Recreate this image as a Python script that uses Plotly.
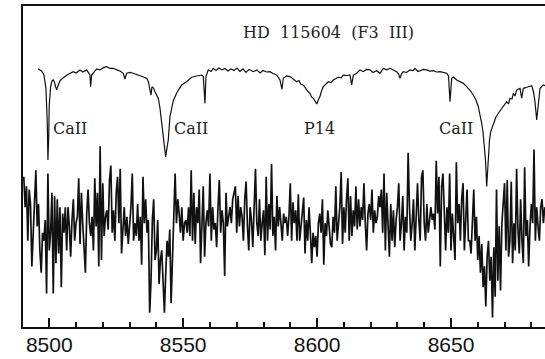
import numpy as np
import plotly.graph_objects as go

# upper spectrum: HD 115604 (F3 III), normalised flux
wave_star = [
    8495.89, 8497.16, 8498.02, 8498.77, 8499.25, 8499.51, 8499.78, 8500.00, 8500.52, 8501.01,
    8501.49, 8501.87, 8502.39, 8502.76, 8503.36, 8504.00, 8505.00, 8505.86, 8507.09, 8508.96,
    8509.97, 8511.46, 8512.58, 8513.97, 8515.20, 8515.46, 8515.83, 8517.70, 8518.93, 8520.16,
    8521.43, 8522.67, 8523.90, 8525.28, 8526.40, 8527.63, 8528.27, 8528.90, 8530.13, 8531.37,
    8532.64, 8533.87, 8535.10, 8536.37, 8537.04, 8537.60, 8537.98, 8538.35, 8538.91, 8539.47,
    8540.70, 8541.34, 8541.97, 8542.46, 8542.83, 8543.47, 8543.84, 8544.44, 8545.07, 8546.30,
    8547.57, 8549.44, 8551.31, 8553.17, 8555.04, 8556.91, 8557.51, 8558.14, 8558.51, 8559.37,
    8560.38, 8561.24, 8562.25, 8563.37, 8564.49, 8565.61, 8566.73, 8567.85, 8568.97, 8570.09,
    8571.21, 8572.33, 8573.45, 8574.57, 8576.18, 8577.56, 8578.68, 8579.80, 8581.11, 8582.41,
    8583.53, 8584.91, 8586.15, 8586.89, 8587.38, 8588.57, 8589.88, 8591.00, 8592.38, 8593.24,
    8593.99, 8594.85, 8595.48, 8596.12, 8596.79, 8597.35, 8597.91, 8598.58, 8599.22, 8599.85,
    8600.45, 8601.08, 8601.64, 8602.32, 8603.32, 8604.18, 8605.19, 8606.05, 8607.06, 8607.92,
    8608.93, 8609.78, 8611.17, 8612.29, 8612.92, 8613.52, 8614.79, 8616.02, 8617.25, 8618.45,
    8619.76, 8620.87, 8622.25, 8623.49, 8624.72, 8625.92, 8627.22, 8628.34, 8629.72, 8630.39,
    8630.96, 8631.52, 8632.19, 8633.38, 8634.69, 8635.81, 8636.56, 8637.68, 8638.43, 8639.73,
    8640.93, 8642.16, 8643.39, 8644.59, 8645.89, 8647.13, 8648.39, 8649.07, 8649.63, 8650.26,
    8650.93, 8652.13, 8653.36, 8654.59, 8655.60, 8656.46, 8657.47, 8658.33, 8659.33, 8660.19,
    8660.83, 8661.46, 8661.95, 8662.43, 8662.88, 8663.33, 8663.63, 8663.93, 8664.38, 8664.82,
    8665.79, 8666.80, 8667.66, 8668.67, 8669.53, 8670.16, 8670.80, 8671.47, 8672.03, 8672.78,
    8673.27, 8673.90, 8674.54, 8675.21, 8675.77, 8676.40, 8677.00, 8678.01, 8678.87, 8680.14,
    8680.81, 8681.37, 8682.00, 8682.60, 8683.24, 8684.47, 8685.48,
]
flux_star = [
    0.994, 0.981, 0.956, 0.873, 0.664, 0.425, 0.563, 0.769, 0.883, 0.919,
    0.925, 0.914, 0.883, 0.863, 0.894, 0.919, 0.936, 0.946, 0.961, 0.977,
    0.969, 0.988, 0.975, 0.988, 0.956, 0.883, 0.956, 0.994, 0.988, 1.002,
    1.008, 0.997, 0.998, 0.988, 0.981, 0.967, 0.931, 0.967, 0.972, 0.967,
    0.959, 0.952, 0.947, 0.936, 0.913, 0.873, 0.831, 0.883, 0.875, 0.852,
    0.811, 0.750, 0.664, 0.581, 0.519, 0.444, 0.488, 0.550, 0.696, 0.794,
    0.844, 0.894, 0.914, 0.942, 0.950, 0.956, 0.946, 0.779, 0.946, 0.988,
    0.978, 0.998, 0.984, 1.000, 0.988, 0.997, 0.981, 0.994, 0.984, 1.000,
    0.978, 0.994, 0.972, 0.991, 0.977, 0.988, 0.969, 0.984, 0.975, 0.977,
    0.966, 0.956, 0.925, 0.867, 0.936, 0.950, 0.946, 0.931, 0.914, 0.922,
    0.897, 0.894, 0.875, 0.863, 0.850, 0.842, 0.819, 0.811, 0.794, 0.775,
    0.800, 0.821, 0.856, 0.883, 0.900, 0.914, 0.909, 0.925, 0.934, 0.942,
    0.938, 0.956, 0.953, 0.956, 0.894, 0.956, 0.967, 0.988, 0.977, 0.991,
    0.988, 0.972, 0.983, 0.967, 0.998, 0.988, 0.998, 0.988, 0.977, 0.963,
    0.936, 0.963, 0.977, 0.972, 0.988, 0.984, 0.998, 0.978, 0.983, 0.991,
    0.988, 0.981, 0.983, 0.975, 0.977, 0.972, 0.967, 0.950, 0.789, 0.936,
    0.944, 0.925, 0.916, 0.904, 0.888, 0.873, 0.853, 0.831, 0.800, 0.758,
    0.713, 0.654, 0.600, 0.529, 0.425, 0.260, 0.350, 0.456, 0.550, 0.602,
    0.654, 0.694, 0.717, 0.738, 0.758, 0.775, 0.789, 0.775, 0.811, 0.806,
    0.842, 0.825, 0.863, 0.869, 0.873, 0.811, 0.873, 0.878, 0.883, 0.889,
    0.850, 0.789, 0.675, 0.769, 0.873, 0.894, 0.888,
]

# lower spectrum: residuals on a 0.5 A grid starting at 8490.5 A
wave_start = 8490.5
wave_step = 0.5
flux_resid = [
    0.32, 0.13, 0.26, -0.08, 0.24, 0.15, -0.24, -0.01, 0.15, 0.36,
    0.01, 0.15, -0.14, -0.28, -0.03, -0.08, 0.05, -0.41, 0.34, -0.14,
    -0.03, 0.22, -0.41, 0.20, -0.22, 0.18, -0.16, 0.13, -0.37, 0.09,
    -0.03, 0.13, -0.14, 0.13, 0.01, -0.18, 0.05, 0.18, -0.08, 0.03,
    0.07, 0.31, -0.10, 0.22, 0.03, -0.18, -0.28, 0.09, 0.24, 0.03,
    -0.05, 0.07, -0.14, 0.31, 0.01, 0.22, -0.24, 0.51, -0.20, 0.28,
    -0.05, 0.07, 0.11, -0.01, 0.30, 0.39, -0.03, 0.11, -0.08, 0.22,
    0.32, 0.03, 0.37, -0.16, 0.03, 0.13, -0.05, 0.07, -0.10, 0.01,
    0.13, 0.34, -0.08, 0.03, -0.05, 0.15, -0.08, 0.07, -0.23, 0.32,
    0.03, 0.18, -0.03, 0.05, -0.53, -0.33, 0.05, 0.18, -0.20, -0.14,
    0.05, -0.35, -0.20, -0.14, -0.37, -0.53, -0.28, -0.08, -0.18, -0.01,
    -0.47, -0.24, 0.11, 0.34, 0.03, 0.18, 0.09, -0.03, 0.13, -0.08,
    0.03, 0.05, -0.03, 0.13, -0.05, 0.36, -0.08, 0.22, -0.10, 0.13,
    0.03, 0.24,
    -0.22, 0.09, 0.26, -0.18, 0.03, 0.11, 0.01, 0.34,
    -0.08, 0.13, -0.01, 0.03, -0.12, 0.13, 0.30, -0.03, 0.11, 0.03,
    -0.30, 0.22, 0.01, 0.07, 0.13, 0.03, 0.18, 0.22, 0.26, -0.03,
    0.20, 0.01, 0.13, 0.07, -0.08, 0.18, 0.29, 0.01, -0.14, 0.13,
    0.05, -0.12, 0.13, 0.37, 0.03, -0.05, 0.18, -0.08, 0.03, 0.11,
    -0.17, 0.32, -0.08, 0.15, -0.01, 0.40, -0.05, 0.07, -0.14, 0.20,
    0.01, 0.13, 0.03, -0.08, 0.09, 0.03, 0.07, -0.05, 0.07, 0.28,
    -0.08, 0.16, 0.03, 0.11, -0.08, 0.21, -0.08, 0.01, 0.05, 0.19,
    -0.16, 0.05, -0.08, 0.13, -0.03, -0.22, -0.03, -0.12, -0.05, -0.18,
    0.03, 0.09, -0.03, 0.18, -0.23, 0.03, -0.05, 0.11, 0.01, -0.10,
    -0.12, 0.07, -0.03, 0.26, -0.08, 0.03, 0.13, 0.35, -0.10, 0.13,
    -0.03, 0.18, 0.31, -0.08, 0.20, -0.05, 0.11, 0.01, 0.26, -0.01,
    0.18, 0.01, 0.13, 0.05, 0.28, 0.03, -0.14, 0.09, 0.15, 0.05,
    0.24, -0.03, 0.11,
    0.03, 0.07, 0.20, 0.13, 0.24, -0.03, 0.34,
    -0.14, 0.22, -0.05, -0.18, 0.15, -0.08, 0.11, -0.12, 0.05, 0.13,
    0.28, -0.08, 0.03, 0.20, -0.14, 0.07, -0.03, 0.47, 0.13, -0.08,
    0.03, 0.18, -0.14, 0.03, 0.28, 0.05, -0.08, 0.32, 0.36, 0.03,
    -0.08, 0.15, -0.03, 0.05, 0.13, 0.05, 0.09, -0.01, 0.42, 0.09,
    0.32, -0.24, 0.26, 0.34, 0.01, -0.14, 0.13, -0.03, 0.34, -0.14,
    0.09, -0.08, -0.20, 0.41, 0.03, 0.15, -0.08, 0.18, 0.28, -0.14,
    0.05, 0.24, -0.08, -0.08, -0.16, 0.09, 0.24, -0.08, 0.07, -0.20,
    -0.05, -0.28, -0.10, -0.37, -0.24, -0.49, -0.18, -0.08, -0.33, -0.18,
    -0.56, -0.12, -0.43, 0.24, -0.33, 0.01, -0.39, 0.03, 0.13, 0.28,
    -0.14, 0.30, -0.18, -0.08, 0.29, -0.22, 0.03, -0.14, 0.37, -0.01,
    -0.16, 0.18, -0.08, -0.22, 0.38, -0.05, 0.05, -0.24, 0.01, 0.15,
    0.03, 0.49, -0.08, 0.13, 0.01, -0.08, 0.13, 0.18, 0.03, 0.13,
]
wave_resid = wave_start + wave_step * np.arange(len(flux_resid))

line_labels = ["CaII", "CaII", "P14", "CaII"]
label_waves = [8507.9, 8552.9, 8600.9, 8651.7]
label_level = 0.62
title_text = "HD\u00a0 115604\u00a0 (F3\u00a0 III)"
major_ticks = [8500, 8550, 8600, 8650]

fig = go.Figure()
fig.add_trace(go.Scatter(x=wave_star, y=flux_star, mode="lines",
                         line=dict(color="#111111", width=1.2), hoverinfo="skip"))
fig.add_trace(go.Scatter(x=wave_resid, y=flux_resid, mode="lines",
                         line=dict(color="#111111", width=1.7), hoverinfo="skip"))

for txt, wl in zip(line_labels, label_waves):
    fig.add_annotation(x=wl, y=label_level, text=txt, showarrow=False,
                       font=dict(family="DejaVu Serif", size=16, color="#222222"))
fig.add_annotation(x=8604.2, y=1.225, text=title_text, showarrow=False,
                   font=dict(family="DejaVu Serif", size=16, color="#222222"))

fig.update_layout(
    width=545, height=359,
    margin=dict(l=23, r=0, t=6, b=32, autoexpand=False),
    paper_bgcolor="white", plot_bgcolor="white",
    showlegend=False,
    xaxis=dict(range=[8490.2, 8685.1], showgrid=False, zeroline=False,
               showline=True, linecolor="#111111", linewidth=2, mirror=True,
               tickvals=major_ticks, ticks="inside", ticklen=9, tickwidth=1.5,
               tickcolor="#111111", ticklabelstandoff=-2,
               minor=dict(dtick=10, ticks="inside", ticklen=5, tickwidth=1.5,
                          tickcolor="#111111", showgrid=False),
               tickfont=dict(family="Liberation Sans", size=21, color="#111111")),
    yaxis=dict(range=[-0.619, 1.3875], showgrid=False, zeroline=False,
               showline=True, linecolor="#111111", linewidth=2,
               showticklabels=False, ticks=""),
)

# drop the browser's default page margin so the figure sits at the window corner
fig.write_html("out.html", config={"displayModeBar": False},
               post_script="document.body.style.margin='0';")
